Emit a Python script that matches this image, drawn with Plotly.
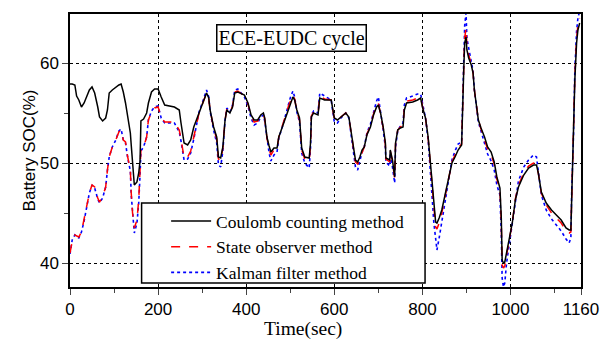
import plotly.graph_objects as go

# Time (sec)
time = [0, 5, 11, 15, 20, 26, 32, 37, 44, 50, 56, 63, 67, 74, 81, 85, 89, 96, 104, 111,
        116, 121, 126, 131, 137, 139, 142, 146, 152, 156, 159, 161, 167, 174, 178, 185, 192, 200, 207, 215,
        237, 248, 252, 259, 267, 274, 281, 289, 293, 304, 310, 315, 318, 326, 333, 337, 342, 347, 352, 356,
        363, 369, 374, 381, 396, 404, 411, 418, 426, 433, 439, 442, 447, 452, 456, 463, 470, 474, 482, 489,
        496, 500, 506, 510, 515, 521, 526, 533, 543, 546, 548, 553, 563, 567, 578, 593, 596, 600, 607, 615,
        626, 633, 637, 641, 644, 648, 653, 658, 663, 668, 674, 682, 689, 696, 700, 705, 711, 716, 717, 726,
        727, 732, 737, 739, 744, 750, 756, 759, 764, 778, 789, 796, 800, 807, 813, 819, 822, 826, 830, 833,
        838, 844, 852, 859, 867, 874, 881, 889, 891, 894, 896, 899, 901, 905, 911, 915, 918, 922, 927, 933,
        941, 948, 956, 963, 969, 976, 979, 981, 984, 987, 991, 996, 1004, 1011, 1018, 1030, 1041, 1052, 1059, 1063,
        1070, 1081, 1093, 1104, 1115, 1126, 1133, 1137, 1139, 1143, 1146, 1150, 1153, 1157]

coulomb = [57.9, 57.9, 57.8, 56.7, 56.3, 55.6, 56.0, 56.6, 57.3, 57.6, 57.0, 55.6, 54.6, 54.2, 54.5, 55.3, 57.0, 57.3, 57.6, 57.8,
           57.9, 57.1, 56.0, 54.8, 53.0, 51.8, 50.3, 47.8, 48.1, 49.0, 50.2, 54.2, 54.4, 55.0, 56.0, 57.1, 57.4, 57.4, 56.6, 55.8,
           55.6, 55.3, 54.0, 52.0, 51.8, 52.3, 53.6, 54.5, 55.0, 56.3, 57.0, 56.5, 55.3, 53.6, 52.6, 50.6, 50.5, 51.6, 54.3, 55.3,
           55.0, 55.6, 57.0, 57.1, 56.8, 56.0, 54.8, 54.3, 54.3, 54.8, 55.0, 54.5, 52.6, 51.7, 51.1, 51.5, 51.5, 52.6, 53.6, 54.6,
           55.5, 56.0, 56.6, 56.3, 55.3, 54.5, 51.5, 50.6, 50.5, 52.0, 54.6, 55.0, 54.8, 56.5, 56.3, 56.3, 55.6, 54.5, 54.3, 54.6,
           55.0, 54.6, 53.5, 52.5, 51.3, 50.3, 50.1, 50.6, 51.3, 51.6, 52.8, 53.6, 54.8, 55.6, 55.8, 55.0, 53.6, 52.0, 50.5, 50.3,
           51.3, 50.3, 48.6, 52.0, 53.3, 53.5, 53.6, 55.3, 56.0, 56.1, 56.3, 56.5, 55.6, 54.5, 52.6, 49.6, 47.6, 45.5, 44.1, 44.0,
           44.5, 45.3, 47.0, 48.6, 50.0, 50.6, 51.3, 51.8, 56.3, 59.6, 62.0, 62.6, 61.3, 60.5, 59.8, 59.0, 57.3, 56.0, 54.3, 53.5,
           52.6, 51.6, 51.1, 50.1, 48.6, 47.5, 44.6, 40.3, 40.0, 40.1, 41.0, 42.2, 44.0, 46.3, 47.6, 48.8, 49.5, 49.8, 49.8, 49.0,
           47.1, 46.0, 45.3, 44.8, 44.3, 43.5, 43.3, 43.3, 47.1, 52.3, 58.3, 62.0, 63.3, 64.0]

observer = [41.0, 42.2, 42.8, 42.7, 42.6, 43.1, 44.3, 45.3, 47.0, 47.8, 47.6, 46.5, 46.1, 46.6, 47.6, 49.3, 50.6, 51.6, 52.3, 53.1,
            53.3, 52.3, 52.1, 50.6, 49.3, 47.0, 45.0, 43.5, 44.3, 46.3, 49.0, 51.3, 51.6, 52.6, 54.3, 55.1, 55.5, 55.6, 54.6, 54.1,
            54.1, 53.3, 52.4, 50.5, 50.6, 51.2, 52.6, 54.0, 55.0, 56.3, 57.0, 56.4, 55.3, 53.5, 52.4, 50.4, 50.2, 51.5, 54.3, 55.4,
            55.0, 55.7, 57.1, 57.2, 56.7, 55.9, 54.7, 54.1, 54.2, 54.7, 54.9, 54.4, 52.5, 51.4, 50.8, 51.3, 51.4, 52.6, 53.6, 54.7,
            55.7, 56.2, 56.8, 56.4, 55.2, 54.3, 51.3, 50.4, 50.2, 51.8, 54.7, 55.1, 54.9, 56.7, 56.4, 56.3, 55.5, 54.4, 54.2, 54.6,
            55.0, 54.5, 53.4, 52.3, 51.1, 50.1, 49.9, 50.5, 51.2, 51.6, 52.9, 53.7, 54.9, 55.8, 56.0, 55.0, 53.5, 51.8, 50.4, 50.1,
            51.2, 50.1, 48.5, 51.9, 53.3, 53.6, 53.8, 55.5, 56.2, 56.3, 56.5, 56.6, 55.7, 54.5, 52.5, 49.4, 47.3, 45.0, 43.6, 43.4,
            44.0, 45.0, 46.9, 48.6, 50.1, 50.8, 51.5, 51.9, 56.3, 59.8, 62.5, 63.5, 61.8, 60.8, 59.9, 59.0, 57.3, 56.0, 54.3, 53.4,
            52.4, 51.4, 50.8, 49.9, 48.4, 47.3, 44.2, 39.8, 39.5, 39.7, 40.8, 42.1, 44.0, 46.4, 47.8, 49.0, 49.7, 50.0, 49.9, 49.0,
            47.0, 45.8, 45.0, 44.5, 44.0, 43.2, 43.0, 43.1, 47.2, 52.5, 58.6, 62.4, 63.8, 64.5]

kalman = [40.9, 42.3, 42.8, 42.6, 42.5, 43.1, 44.2, 45.3, 47.0, 47.8, 47.5, 46.4, 46.0, 46.5, 47.6, 49.3, 50.6, 51.6, 52.3, 53.2,
          53.4, 52.3, 52.0, 50.5, 49.2, 46.8, 44.8, 43.0, 44.0, 46.0, 48.8, 51.2, 51.6, 52.6, 54.3, 55.2, 55.6, 55.7, 54.5, 54.0,
          54.0, 53.1, 52.2, 50.3, 50.4, 51.0, 52.4, 54.0, 55.1, 56.5, 57.3, 56.6, 55.2, 53.3, 52.0, 49.8, 49.6, 51.2, 54.3, 55.5,
          55.1, 55.8, 57.3, 57.4, 56.6, 55.7, 54.5, 53.8, 54.0, 54.6, 54.8, 54.2, 52.3, 51.0, 50.2, 50.8, 51.1, 52.5, 53.6, 54.8,
          55.9, 56.5, 57.2, 56.6, 55.1, 54.1, 51.0, 50.0, 49.5, 51.5, 54.8, 55.2, 55.0, 57.0, 56.7, 56.3, 55.3, 54.1, 54.0, 54.5,
          55.0, 54.5, 53.2, 52.0, 50.7, 49.6, 49.3, 50.2, 51.1, 51.6, 53.0, 53.9, 55.2, 56.2, 56.6, 55.2, 53.3, 51.5, 50.1, 49.7,
          51.0, 49.6, 48.0, 51.6, 53.2, 53.7, 54.0, 55.8, 56.5, 56.7, 56.9, 56.9, 55.9, 54.5, 52.3, 49.0, 46.6, 44.0, 42.0, 41.3,
          42.5, 44.2, 46.5, 48.5, 50.3, 51.2, 51.9, 52.1, 56.5, 60.5, 63.8, 65.0, 62.5, 61.5, 60.3, 59.2, 57.3, 55.9, 54.1, 53.2,
          52.0, 50.9, 50.2, 49.3, 47.8, 46.8, 43.0, 38.5, 37.6, 38.0, 40.0, 41.6, 43.8, 46.5, 48.2, 49.6, 50.3, 50.8, 50.6, 49.2,
          46.8, 45.3, 44.4, 43.8, 43.2, 42.4, 42.0, 42.5, 47.3, 52.8, 59.2, 63.2, 64.5, 65.2]

series_names = ["Coulomb counting method", "State observer method", "Kalman filter method"]
x_major = [0, 200, 400, 600, 800, 1000, 1160]
x_minor = [100, 300, 500, 700, 900, 1100]
y_major = [40, 50, 60]
y_minor = [45, 55]
title_text = "ECE-EUDC cycle"
x_title = "Time(sec)"
y_title = "Battery SOC(%)"

SERIF = "Liberation Serif, Times New Roman, serif"
SANS = "Liberation Sans, Arial, sans-serif"

# plot-area pixel geometry
L, R, T, B = 70, 591, 14, 287
PW, PH = R - L, B - T


def px(xp):
    return (xp - L) / PW


def py(yp):
    return (B - yp) / PH


fig = go.Figure()
fig.add_trace(go.Scatter(x=time, y=kalman, mode="lines", name=series_names[2],
                         line=dict(color="#0000ff", width=1.6, dash="dot"), legendrank=3))
fig.add_trace(go.Scatter(x=time, y=observer, mode="lines", name=series_names[1],
                         line=dict(color="#ff0000", width=1.5, dash="dash"), legendrank=2))
fig.add_trace(go.Scatter(x=time, y=coulomb, mode="lines", name=series_names[0],
                         line=dict(color="#000000", width=1.5), legendrank=1))

fig.update_layout(
    width=611, height=340,
    margin=dict(l=L, r=611 - R, t=T, b=340 - B),
    paper_bgcolor="white", plot_bgcolor="white",
    font=dict(family=SANS, size=16, color="black"),
    showlegend=True,
    legend=dict(x=px(168), y=py(203), xanchor="left", yanchor="top",
                bgcolor="rgba(0,0,0,0)", borderwidth=0,
                font=dict(family=SERIF, size=17.5), tracegroupgap=0, itemwidth=40),
    xaxis=dict(range=[0, 1160], tickvals=x_major, ticks="outside", ticklen=6, tickwidth=1,
               showline=True, linewidth=1.5, linecolor="black", mirror=True,
               showgrid=True, gridcolor="black", griddash="dot", gridwidth=1,
               zeroline=False, tickfont=dict(family=SANS, size=17),
               minor=dict(tickvals=x_minor, ticks="outside", ticklen=4, showgrid=False)),
    yaxis=dict(range=[37.6, 64.9], tickvals=y_major, ticks="outside", ticklen=6, tickwidth=1,
               showline=True, linewidth=1.5, linecolor="black", mirror=True,
               showgrid=True, gridcolor="black", griddash="dot", gridwidth=1,
               zeroline=False, tickfont=dict(family=SANS, size=17),
               minor=dict(tickvals=y_minor, ticks="outside", ticklen=4, showgrid=False),
               title=dict(text=y_title, font=dict(family=SANS, size=17), standoff=0)),
)

# legend frame
fig.add_shape(type="rect", xref="paper", yref="paper",
              x0=px(143), x1=px(432), y0=py(283), y1=py(203),
              line=dict(color="black", width=1.5), fillcolor="white", layer="above")

fig.add_annotation(text=title_text, xref="paper", yref="paper",
                   x=px(296), y=py(37.5), xanchor="center", yanchor="middle", showarrow=False,
                   font=dict(family=SERIF, size=20, color="black"),
                   bordercolor="black", borderwidth=1.5, borderpad=1, bgcolor="white")

fig.add_annotation(text=x_title, xref="paper", yref="paper",
                   x=px(308), y=py(329), xanchor="center", yanchor="middle", showarrow=False,
                   font=dict(family=SERIF, size=19.5, color="black"))

fig.write_html("out.html")
